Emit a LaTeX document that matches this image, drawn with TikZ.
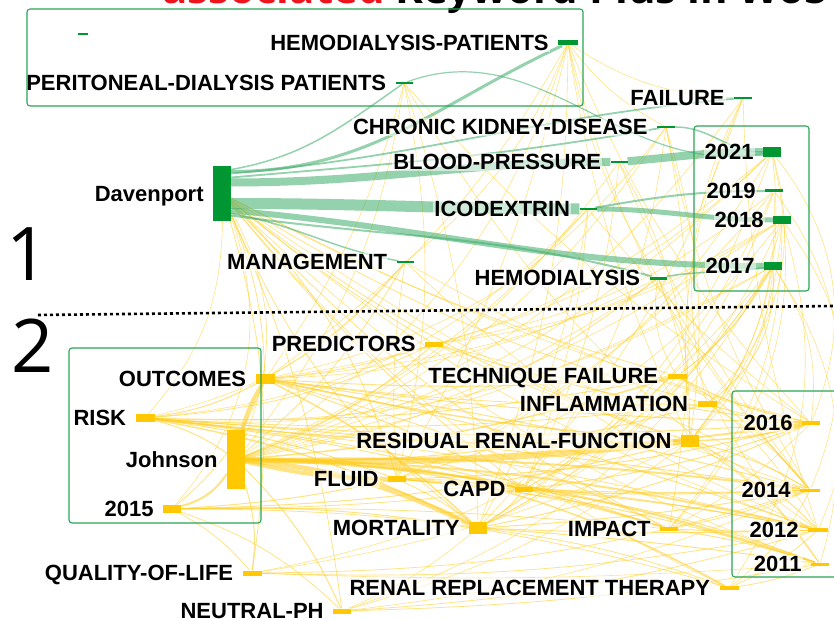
\documentclass[tikz,border=0pt]{standalone}
\usepackage{fontspec}
\setmainfont{Liberation Sans}
\newfontfamily\opensans{Open Sans}
\usetikzlibrary{backgrounds}
\definecolor{cgreen}{RGB}{0,150,50}
\definecolor{cgedge}{RGB}{60,172,105}
\definecolor{cbox}{RGB}{40,165,85}
\definecolor{cyellow}{RGB}{255,200,0}
\definecolor{cyedge}{RGB}{255,204,30}
\definecolor{ctitle}{RGB}{238,20,30}
\tikzset{
  gm/.style={fill=cgreen, draw=none, inner sep=0pt},
  ym/.style={fill=cyellow, draw=none, inner sep=0pt},
  lab/.style={font=\bfseries\fontsize{22}{22}\selectfont, inner xsep=1pt, inner ysep=1.5pt,
    text height=15.7pt, text depth=0pt, fill=white, fill opacity=0.55, text opacity=1},
  gedge/.style={draw=cgedge, draw opacity=0.55},
  yedge/.style={draw=cyedge, draw opacity=0.55},
  clbox/.style={draw=cbox, line width=1.1pt, rounded corners=3pt},
  bignum/.style={font=\opensans\fontsize{74}{74}\selectfont, inner sep=0pt, anchor=base west}
}
\newcommand{\kwn}[7]{%
  \node[#6, minimum width=#4pt, minimum height=#5pt] (#1) at (#2,#3) {};
  \node[lab, anchor=east] (#1-l) at ([xshift=-8pt]#1.west) {#7};}
\begin{document}
\begin{tikzpicture}[x=1pt,y=-1pt]
\useasboundingbox (0,0) rectangle (834,620);
\clip (0,0) rectangle (834,620);

% title (cut off)
\node[font=\opensans\bfseries\fontsize{42}{42}\selectfont, inner sep=0pt, anchor=base west] (title) at (162,4)
  {\textcolor{ctitle}{associated} Keyword Plus in WoS};

% cluster 1 nodes
\node[fill=cgreen, inner sep=0pt, minimum width=10pt, minimum height=2pt] (tiny) at (83,34) {};
\kwn{hp}{568}{43}{20}{5}{gm}{HEMODIALYSIS-PATIENTS}
\kwn{pd}{404}{83}{17}{2}{gm}{PERITONEAL-DIALYSIS PATIENTS}
\kwn{fa}{743}{98}{18}{2}{gm}{FAILURE}
\kwn{ck}{666}{127}{18}{2}{gm}{CHRONIC KIDNEY-DISEASE}
\kwn{bp}{619}{162}{17}{2}{gm}{BLOOD-PRESSURE}
\kwn{dav}{222}{193.5}{18}{55}{gm}{Davenport}
\kwn{ico}{588}{209}{17}{2}{gm}{ICODEXTRIN}
\kwn{man}{405}{262}{17}{2}{gm}{MANAGEMENT}
\kwn{hd}{658}{278}{17}{3}{gm}{HEMODIALYSIS}
\kwn{y21}{772}{152}{18}{10}{gm}{2021}
\kwn{y19}{774}{191}{18}{3}{gm}{2019}
\kwn{y18}{782}{220}{18}{8}{gm}{2018}
\kwn{y17}{773}{266}{18}{8}{gm}{2017}

% cluster 2 nodes
\kwn{pred}{434}{344}{18}{5}{ym}{PREDICTORS}
\kwn{out}{265}{379}{19}{10}{ym}{OUTCOMES}
\kwn{tf}{677}{376}{19}{5}{ym}{TECHNIQUE FAILURE}
\kwn{infl}{707}{404}{19}{6}{ym}{INFLAMMATION}
\kwn{risk}{145}{418}{19}{8}{ym}{RISK}
\kwn{rrf}{690}{441}{18}{12}{ym}{RESIDUAL RENAL-FUNCTION}
\kwn{john}{236}{459.5}{18}{59}{ym}{Johnson}
\kwn{fluid}{397}{479}{18}{6}{ym}{FLUID}
\kwn{capd}{524}{489}{18}{5}{ym}{CAPD}
\kwn{y15}{172}{509}{18}{8}{ym}{2015}
\kwn{mort}{478}{528}{18}{12}{ym}{MORTALITY}
\kwn{imp}{669}{529}{18}{4}{ym}{IMPACT}
\kwn{qol}{252}{573}{19}{5}{ym}{QUALITY-OF-LIFE}
\kwn{rrt}{729}{588}{19}{4}{ym}{RENAL REPLACEMENT THERAPY}
\kwn{nph}{342}{611}{18}{5}{ym}{NEUTRAL-PH}
\kwn{y16}{811}{423}{18}{4}{ym}{2016}
\kwn{y14}{810}{490}{20}{3}{ym}{2014}
\kwn{y12}{818}{530}{20}{4}{ym}{2012}
\kwn{y11}{820}{564}{18}{3}{ym}{2011}

% edges
\begin{scope}[on background layer]
  % yellow network
  \foreach \a/\b/\w/\bd in {
    john/out/4/8, john/pred/1/-10, john/tf/1.5/-6, john/infl/1/-8, john/rrf/5/-4,
    john/fluid/4/-6, john/capd/2/6, john/mort/5/10, john/imp/1.5/8, john/qol/1/12,
    john/rrt/1.5/14, john/nph/1/10, john/risk/1/-10, john/y16/2/-4, john/y14/2/4,
    john/y12/2/6, john/y11/2/8, john/man/0.8/-10, john/hd/0.8/-14, john/ck/0.6/-18,
    john/hp/0.6/-20, john/bp/0.6/-16, john/ico/0.6/-12, john/y18/0.6/-10, john/y17/0.6/-8,
    john/pd/0.6/-15, john/y21/0.6/-14, john/fa/0.6/-18,
    risk/out/1/-10, risk/rrf/1.5/-4, risk/fluid/1/6, risk/mort/1.5/8, risk/capd/1/4,
    risk/imp/1/6, risk/y16/1/-4, risk/y14/1/2, risk/tf/1/-6, risk/infl/0.8/-5, risk/pred/0.8/-10,
    risk/y12/0.8/4, risk/hd/0.6/-20, risk/man/0.6/-18, risk/y17/0.6/-16, risk/ico/0.6/-20,
    y15/john/2/-20, y15/rrf/1/-6, y15/mort/1/5, y15/fluid/1/-4, y15/qol/0.8/10,
    y15/nph/0.8/12, y15/capd/0.8/-3, y15/imp/0.8/3, y15/rrt/0.8/8, y15/out/0.8/-14,
    out/rrf/1.5/-4, out/tf/1/-4, out/mort/1.5/8, out/y16/1/-3, out/y14/1/3, out/y12/1/4,
    out/infl/0.8/-4, out/pred/0.8/-6, out/capd/1/5, out/imp/0.8/5, out/hd/0.6/-12,
    out/y21/0.6/-16, out/y18/0.6/-12, out/ck/0.6/-20,
    rrf/y16/1.5/-6, rrf/y14/1/8, rrf/y12/1/10, rrf/y11/1/12, rrf/y17/0.6/-20, rrf/y18/0.6/-18,
    rrf/y21/0.6/-22, rrf/y19/0.6/-20,
    mort/y16/1/-6, mort/y14/1/-3, mort/y12/1/-2, mort/y11/1/2, mort/y21/0.6/-18, mort/y17/0.6/-14,
    mort/rrt/0.8/6, mort/capd/0.8/-10, mort/tf/0.6/-10, mort/y18/0.6/-20, mort/y19/0.6/-16,
    fluid/y14/1/-4, fluid/y12/1/4, fluid/y11/1/6, fluid/y16/1/-6, fluid/y18/0.6/-18,
    fluid/mort/0.8/6, fluid/capd/0.8/4, fluid/imp/0.6/6, fluid/y19/0.6/-12, fluid/y21/0.6/-18,
    capd/y14/1/-2, capd/y12/1/3, capd/y11/1/6, capd/y16/1/-6, capd/y19/0.6/-20, capd/y17/0.6/-14,
    imp/y12/1/-2, imp/y11/1/4, imp/y14/0.8/-4, imp/y21/0.6/-28, imp/y16/0.6/-8, imp/y18/0.6/-20,
    tf/y16/1/-8, tf/y14/0.8/10, tf/y18/0.6/-20, tf/y12/0.6/12, tf/y17/0.6/-12,
    infl/y16/1/-6, infl/y17/0.8/-28, infl/y21/0.6/-30, infl/y14/0.6/10,
    qol/y12/0.8/-6, qol/y14/0.8/-8, qol/y11/0.6/-3, qol/rrf/0.6/-8, qol/y17/0.6/-20,
    rrt/y11/0.8/-6, rrt/y12/0.8/-8, rrt/y14/0.6/-12, rrt/y18/0.6/-25,
    nph/y12/0.8/-6, nph/y11/0.8/-4, nph/y14/0.6/-8, nph/rrf/0.6/-10, nph/mort/0.6/-8, nph/y17/0.6/-20,
    pred/y16/1/-6, pred/y18/0.6/-12, pred/y19/0.6/-14, pred/y14/0.6/8, pred/rrf/0.6/-4, pred/y21/0.6/-14,
    dav/rrf/0.8/-10, dav/mort/0.8/-14, dav/out/0.8/10, dav/fluid/0.8/14, dav/capd/0.8/-6,
    dav/infl/0.8/-8, dav/tf/0.8/-6, dav/pred/0.8/-4, dav/qol/0.8/12, dav/nph/0.8/8,
    dav/imp/0.8/-10, dav/rrt/0.6/-12, dav/risk/0.6/20, dav/y16/0.6/-6, dav/y14/0.6/-8,
    dav/y12/0.6/-10, dav/y11/0.6/-12, dav/john/0.6/25, dav/y15/0.6/30,
    hp/y16/0.6/-10, hp/y14/0.6/-14, hp/rrf/0.6/-8, hp/mort/0.6/10, hp/out/0.6/12, hp/fluid/0.6/8,
    pd/y16/0.6/-8, pd/y12/0.6/-12, pd/mort/0.6/8, pd/fluid/0.6/12, pd/out/0.6/10,
    ck/y14/0.6/-10, ck/rrf/0.6/12, ck/capd/0.6/14, ck/imp/0.6/10,
    man/y16/0.6/-8, man/y12/0.6/-10, man/out/0.6/10, man/fluid/0.6/-6,
    hd/y14/0.6/-6, hd/y11/0.6/-8, hd/rrf/0.6/10, hd/tf/0.6/-20,
    ico/y16/0.6/-6, ico/mort/0.6/10, bp/y14/0.6/-8, bp/rrf/0.6/14, fa/y12/0.6/-8, fa/infl/0.6/-20,
    fa/rrf/0.6/-14, fa/mort/0.6/12, bp/capd/0.6/10, ico/capd/0.6/8,
    y21/y16/0.6/30, y19/y14/0.6/30, y18/y12/0.6/30, y17/y11/0.6/25, y17/y16/0.6/20,
    hp/fa/0.6/-15, hp/ck/0.6/-12, hp/man/0.6/15, hp/hd/0.6/-10}
    \draw[yedge, line width=\w pt] (\a) to[bend left=\bd] (\b);
  % green network
  \draw[gedge, line width=3pt] ([yshift=22pt]dav.east) to[out=0,in=205] (hp);
  \draw[gedge, line width=1.5pt] ([yshift=24pt]dav.east) to[out=10,in=215] (pd);
  \draw[gedge, line width=1.8pt] ([yshift=20pt]dav.east) to[out=5,in=185] (fa);
  \draw[gedge, line width=1.8pt] ([yshift=16pt]dav.east) to[out=5,in=190] (ck);
  \draw[gedge, line width=8pt] ([yshift=11pt]dav.east) to[out=0,in=180] (bp);
  \draw[gedge, line width=11pt] ([yshift=-10pt]dav.east) to[out=0,in=180] (ico);
  \draw[gedge, line width=1.5pt] ([yshift=-20pt]dav.east) to[out=-10,in=170] (man);
  \draw[gedge, line width=2pt] ([yshift=-22pt]dav.east) to[out=-8,in=165] (hd);
  \draw[gedge, line width=6pt] ([yshift=-17pt]dav.east) to[out=-5,in=180] (y17);
  \draw[gedge, line width=8pt] (bp) to[out=5,in=180] (y21);
  \draw[gedge, line width=5pt] (ico) to[out=0,in=180] (y18);
  \draw[gedge, line width=2pt] (ico) to[out=10,in=180] (y19);
  \draw[gedge, line width=1.5pt] (ck) to[out=0,in=180] (y21);
  \draw[gedge, line width=1.5pt] (hd) to[out=10,in=190] (y17);
  \draw[gedge, line width=1.2pt] (pd) to[out=20,in=190] (y21);
\end{scope}

% cluster boxes
\draw[clbox] (27,9) rectangle (583,106);
\draw[clbox] (694,126) rectangle (809,291);
\draw[clbox] (69,348) rectangle (261,523);
\draw[clbox] (732,391) rectangle (845,577);

% separator
\coordinate (sepA) at (38,315);
\coordinate (sepB) at (834,306);
\draw[line width=2.6pt, dash pattern=on 3pt off 3pt] (sepA) -- (sepB);

% cluster numbers
\node[bignum] (one) at (6,280) {1};
\node[bignum] (two) at (11,372) {2};
\end{tikzpicture}
\end{document}
